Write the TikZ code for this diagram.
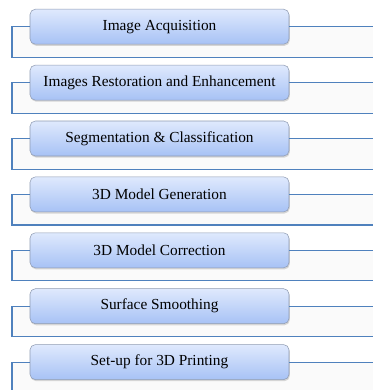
\documentclass[tikz,border=0pt]{standalone}
\usepackage{fontspec}
\setmainfont{Liberation Serif}
\newfontfamily\stepfont{Liberation Serif}
\usepackage{xcolor}
\usepackage{tikz}
\usetikzlibrary{shadows}

\definecolor{boxtop}{HTML}{DFE9FD}
\definecolor{boxbot}{HTML}{A7C2F5}
\definecolor{boxedge}{HTML}{8F9BB2}
\definecolor{linkblue}{HTML}{4F81BD}
\definecolor{panel}{HTML}{FAFAFA}

\begin{document}
\begin{tikzpicture}[x=0.75pt,y=-0.75pt,
  stepbox/.style={draw=boxedge,rounded corners=4pt,top color=boxtop,bottom color=boxbot,
    minimum width=194.25pt,minimum height=26.25pt,inner sep=0pt,
    font=\stepfont\fontsize{11.5}{13}\selectfont,
    drop shadow={opacity=0.3,shadow xshift=0.6pt,shadow yshift=-1.2pt}},
  link/.style={draw=linkblue,line width=0.8pt}]
  \useasboundingbox (0,0) rectangle (373,390);

  % light panels behind each bracket
  \fill[panel] (12,26.7) rectangle (373,57.3);
  \fill[panel] (12,82.6) rectangle (373,113.2);
  \fill[panel] (12,138.5) rectangle (373,169.1);
  \fill[panel] (12,194.4) rectangle (373,225.0);
  \fill[panel] (12,250.3) rectangle (373,280.9);
  \fill[panel] (12,306.2) rectangle (373,336.8);
  \fill[panel] (12,362.1) rectangle (373,392.7);

  \node[stepbox] (acq) at (159.5,26.7) {Image Acquisition};
  \coordinate (acq e) at (373,26.7);
  \coordinate (acq l) at (12,57.3);
  \coordinate (acq r) at (373,57.3);
  \draw[link] (acq.west) -| (acq l) -- (acq r);
  \draw[link] (acq.east) -- (acq e);

  \node[stepbox] (rest) at (159.5,82.6) {Images Restoration and Enhancement};
  \coordinate (rest e) at (373,82.6);
  \coordinate (rest l) at (12,113.2);
  \coordinate (rest r) at (373,113.2);
  \draw[link] (rest.west) -| (rest l) -- (rest r);
  \draw[link] (rest.east) -- (rest e);

  \node[stepbox] (seg) at (159.5,138.5) {Segmentation \& Classification};
  \coordinate (seg e) at (373,138.5);
  \coordinate (seg l) at (12,169.1);
  \coordinate (seg r) at (373,169.1);
  \draw[link] (seg.west) -| (seg l) -- (seg r);
  \draw[link] (seg.east) -- (seg e);

  \node[stepbox] (gen) at (159.5,194.4) {3D Model Generation};
  \coordinate (gen e) at (373,194.4);
  \coordinate (gen l) at (12,225.0);
  \coordinate (gen r) at (373,225.0);
  \draw[link] (gen.west) -| (gen l) -- (gen r);
  \draw[link] (gen.east) -- (gen e);

  \node[stepbox] (corr) at (159.5,250.3) {3D Model Correction};
  \coordinate (corr e) at (373,250.3);
  \coordinate (corr l) at (12,280.9);
  \coordinate (corr r) at (373,280.9);
  \draw[link] (corr.west) -| (corr l) -- (corr r);
  \draw[link] (corr.east) -- (corr e);

  \node[stepbox] (smooth) at (159.5,306.2) {Surface Smoothing};
  \coordinate (smooth e) at (373,306.2);
  \coordinate (smooth l) at (12,336.8);
  \coordinate (smooth r) at (373,336.8);
  \draw[link] (smooth.west) -| (smooth l) -- (smooth r);
  \draw[link] (smooth.east) -- (smooth e);

  \node[stepbox] (print) at (159.5,362.1) {Set-up for 3D Printing};
  \coordinate (print e) at (373,362.1);
  \coordinate (print l) at (12,392.7);
  \draw[link] (print.west) -| (print l);
  \draw[link] (print.east) -- (print e);
\end{tikzpicture}
\end{document}
